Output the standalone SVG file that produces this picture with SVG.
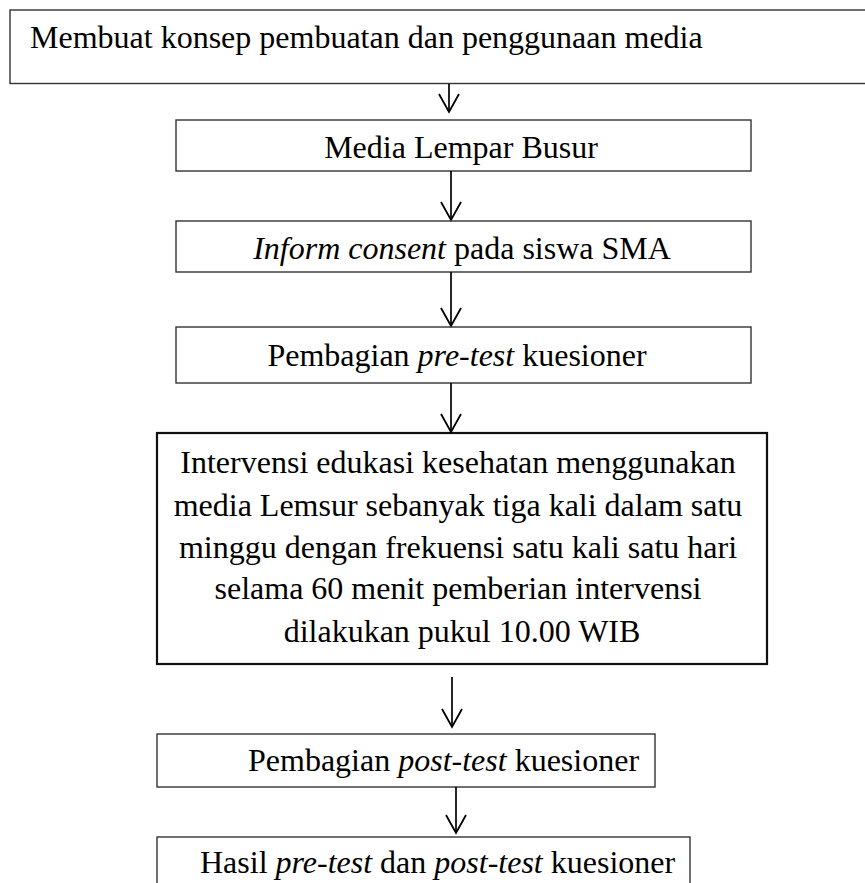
<svg xmlns="http://www.w3.org/2000/svg" width="865" height="883" viewBox="0 0 865 883">
<defs>
<style>
.box{fill:#fff;stroke:#333;stroke-width:1.4}
.boxb{fill:#fff;stroke:#111;stroke-width:2.2}
.t{font-family:"Liberation Serif","Times New Roman",serif;font-size:32px;fill:#000}
.c{stroke:#000;stroke-width:1.7;fill:none}
</style>
<marker id="ah" markerWidth="24" markerHeight="24" refX="20" refY="12" orient="auto" markerUnits="userSpaceOnUse" viewBox="0 0 24 24">
<path d="M2 2 L20 12 L2 22" fill="none" stroke="#000" stroke-width="1.8"/>
</marker>
</defs>
<rect width="865" height="883" fill="#fff"/>
<g id="n1">
<rect class="box" x="10" y="10" width="870" height="73.5"/>
<text class="t" x="30" y="48">Membuat konsep pembuatan dan penggunaan media</text>
</g>
<g id="n2">
<rect class="box" x="176" y="120" width="575" height="51"/>
<text class="t" x="461" y="158" text-anchor="middle">Media Lempar Busur</text>
</g>
<g id="n3">
<rect class="box" x="176" y="221" width="575" height="51"/>
<text class="t" x="462" y="259" text-anchor="middle"><tspan font-style="italic">Inform consent</tspan> pada siswa SMA</text>
</g>
<g id="n4">
<rect class="box" x="176" y="327" width="575" height="56"/>
<text class="t" x="457" y="366" text-anchor="middle">Pembagian <tspan font-style="italic">pre-test</tspan> kuesioner</text>
</g>
<g id="n5">
<rect class="boxb" x="157" y="433" width="610" height="231"/>
<text class="t" text-anchor="middle">
<tspan x="462" y="473">Intervensi edukasi kesehatan menggunakan</tspan>
<tspan x="462" y="516">media Lemsur sebanyak tiga kali dalam satu</tspan>
<tspan x="462" y="558">minggu dengan frekuensi satu kali satu hari</tspan>
<tspan x="462" y="599">selama 60 menit pemberian intervensi</tspan>
<tspan x="462" y="642">dilakukan pukul 10.00 WIB</tspan>
</text>
</g>
<g id="n6">
<rect class="box" x="157" y="734" width="498" height="53"/>
<text class="t" x="248" y="771">Pembagian <tspan font-style="italic">post-test</tspan> kuesioner</text>
</g>
<g id="n7">
<rect class="box" x="157" y="837" width="533" height="60"/>
<text class="t" x="200" y="873">Hasil <tspan font-style="italic">pre-test</tspan> dan <tspan font-style="italic">post-test</tspan> kuesioner</text>
</g>
<g id="connectors">
<line class="c" x1="449" y1="84" x2="449" y2="112" marker-end="url(#ah)"/>
<line class="c" x1="451" y1="171" x2="451" y2="220" marker-end="url(#ah)"/>
<line class="c" x1="451" y1="272" x2="451" y2="326" marker-end="url(#ah)"/>
<line class="c" x1="451" y1="383" x2="451" y2="432" marker-end="url(#ah)"/>
<line class="c" x1="452" y1="677" x2="452" y2="727" marker-end="url(#ah)"/>
<line class="c" x1="456" y1="787" x2="456" y2="833" marker-end="url(#ah)"/>
</g>
</svg>
